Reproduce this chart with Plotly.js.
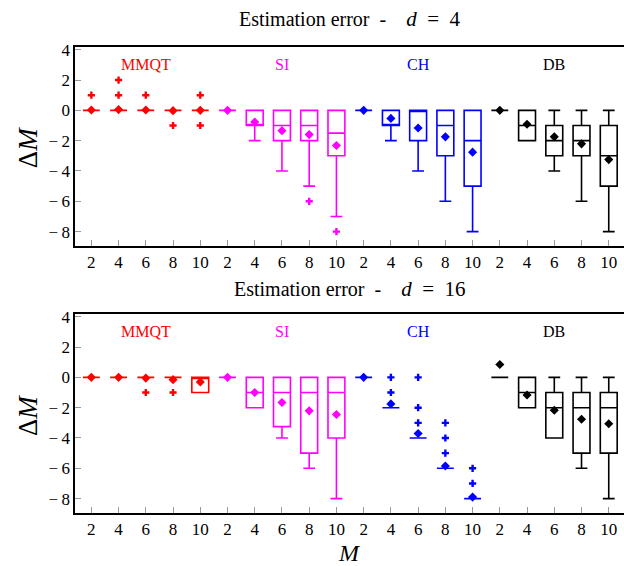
<!DOCTYPE html>
<html>
<head>
<meta charset="utf-8">
<script src="https://cdn.plot.ly/plotly-3.0.1.min.js"></script>
<style>html,body{margin:0;padding:0;background:#fff;}#chart{width:624px;height:566px;}</style>
</head>
<body>
<div id="chart"></div>
<script>
// Categories
const Mvals = [2, 4, 6, 8, 10];
const methods = ['MMQT', 'SI', 'CH', 'DB'];
const dims = [4, 16];
const yTickVals = [-8, -6, -4, -2, 0, 2, 4];

// ---- d = 4 (order: MMQT M=2..10, SI, CH, DB) ----
const d4_q1     = [0,0,0,0,0,   0,-1,-2,-2,-3,    0,-1,-2,-3,-5,   0,-2,-3,-3,-5];
const d4_median = [0,0,0,0,0,   0,-1,-1,-1,-1.5,  0,-1,0,-1,-2,    0,-1,-2,-2,-3];
const d4_q3     = [0,0,0,0,0,   0,0,0,0,0,        0,0,0,0,0,       0,0,-1,-1,-1];
const d4_lower  = [0,0,0,0,0,   0,-2,-4,-5,-7,    0,-2,-4,-6,-8,   0,-2,-4,-6,-8];
const d4_upper  = [0,0,0,0,0,   0,0,0,0,0,        0,0,0,0,0,       0,0,0,0,0];
const d4_mean   = [0.02,0.05,0.02,-0.02,0,  0,-0.77,-1.34,-1.6,-2.32,  0,-0.53,-1.16,-1.75,-2.76,  0,-0.92,-1.75,-2.21,-3.25];
const d4_outIdx = [0,1,1,2,3,4,4,8,9];
const d4_outVal = [1,1,2,1,-1,1,-1,-6,-8];

// ---- d = 16 ----
const d16_q1     = [0,0,0,0,-1,  0,-2,-3.25,-5,-4,  0,-2,-4,-6,-8,  0,-2,-4,-5,-5];
const d16_median = [0,0,0,0,0,   0,-1,-1,-1,-1,     0,-2,-4,-6,-8,  0,-1,-2,-2,-2];
const d16_q3     = [0,0,0,0,0,   0,0,0,0,0,         0,-2,-4,-6,-8,  0,0,-1,-1,-1];
const d16_lower  = [0,0,0,0,-1,  0,-2,-4,-6,-8,     0,-2,-4,-6,-8,  0,-2,-4,-6,-8];
const d16_upper  = [0,0,0,0,0,   0,0,0,0,0,         0,-2,-4,-6,-8,  0,0,0,0,0];
const d16_mean   = [0,0,-0.05,-0.15,-0.3,  0,-1.0,-1.66,-2.21,-2.45,  0,-1.75,-3.7,-5.85,-7.9,  0.85,-1.16,-2.17,-2.76,-3.06];
const d16_outIdx = [2,3,11,11,12,12,12,13,13,13,14,14];
const d16_outVal = [-1,-1,0,-1,0,-2,-3,-3,-4,-5,-6,-7];

const tickLabels = methods.flatMap(() => Mvals);
const tickPos = tickLabels.map((_, i) => i);
const yTickText = yTickVals.map(v => v < 0 ? '\u2212\u2009' + Math.abs(v) : String(v));

// styles
const colors = ['#ff0000', '#ff00ff', '#0000ff', '#000000'];
const serif = "'Liberation Serif'";

function panel(st, xa, ya) {
  const traces = [];
  methods.forEach((m, k) => {
    const s = k * 5, e = s + 5;
    const pos = tickPos.slice(s, e);
    traces.push({
      type: 'box', xaxis: xa, yaxis: ya,
      x: pos,
      q1: st.q1.slice(s, e), median: st.median.slice(s, e), q3: st.q3.slice(s, e),
      lowerfence: st.lower.slice(s, e), upperfence: st.upper.slice(s, e),
      boxpoints: false, width: 0.62, whiskerwidth: 0.7,
      line: {color: colors[k], width: 1.6},
      fillcolor: 'rgba(0,0,0,0)', showlegend: false, hoverinfo: 'skip'
    });
    traces.push({
      type: 'scatter', mode: 'markers', xaxis: xa, yaxis: ya,
      x: pos, y: st.mean.slice(s, e),
      marker: {symbol: 'diamond', size: 7, color: colors[k]},
      showlegend: false, hoverinfo: 'skip'
    });
  });
  traces.push({
    type: 'scatter', mode: 'markers', xaxis: xa, yaxis: ya,
    x: st.outIdx, y: st.outVal,
    marker: {symbol: 'cross', size: 6, color: st.outIdx.map(i => colors[Math.floor(i / 5)])},
    showlegend: false, hoverinfo: 'skip'
  });
  return traces;
}

const data = [
  ...panel({q1: d4_q1, median: d4_median, q3: d4_q3, lower: d4_lower, upper: d4_upper, mean: d4_mean, outIdx: d4_outIdx, outVal: d4_outVal}, 'x', 'y'),
  ...panel({q1: d16_q1, median: d16_median, q3: d16_q3, lower: d16_lower, upper: d16_upper, mean: d16_mean, outIdx: d16_outIdx, outVal: d16_outVal}, 'x2', 'y2')
];

const xax = (anchor) => ({
  anchor: anchor, range: [-0.6, 19.56], tickmode: 'array', tickvals: tickPos, ticktext: tickLabels,
  showgrid: false, zeroline: false, showline: true, linecolor: '#000', linewidth: 1.6, mirror: true,
  ticks: 'inside', ticklen: 6, tickcolor: '#999', tickwidth: 1,
  tickfont: {family: serif, size: 17, color: '#000'}
});
const yax = (anchor, dom) => ({
  anchor: anchor, domain: dom, range: [-8.95, 4.18], tickmode: 'array', tickvals: yTickVals, ticktext: yTickText,
  showgrid: false, zeroline: false, showline: true, linecolor: '#000', linewidth: 1.6,
  ticks: 'inside', ticklen: 6, tickcolor: '#999', tickwidth: 1,
  tickfont: {family: serif, size: 17, color: '#000'}
});

const annFont = (c, s) => ({family: serif, size: s, color: c});
const annotations = [];
[['x', 'y'], ['x2', 'y2']].forEach(([xa, ya]) => {
  methods.forEach((m, k) => {
    annotations.push({xref: xa, yref: ya, x: k * 5 + 2, y: 3, text: m, showarrow: false,
      font: annFont(colors[k], 16), xanchor: 'center', yanchor: 'middle'});
  });
});
const titleText = d => 'Estimation error\u2002-\u2003<span style="font-size:21px"><i>d</i>\u2002=\u2002' + d + '</span>';
annotations.push({xref: 'paper', yref: 'paper', x: 0.5, y: 1.06, text: titleText(dims[0]),
  showarrow: false, font: annFont('#000', 20), xanchor: 'center', yanchor: 'middle'});
annotations.push({xref: 'paper', yref: 'paper', x: 0.5, y: 0.4807, text: titleText(dims[1]),
  showarrow: false, font: annFont('#000', 20), xanchor: 'center', yanchor: 'middle'});
annotations.push({xref: 'paper', yref: 'paper', x: -0.0856, y: 0.783, text: 'Δ<i>M</i>', textangle: -90,
  showarrow: false, font: annFont('#000', 27), xanchor: 'center', yanchor: 'middle'});
annotations.push({xref: 'paper', yref: 'paper', x: -0.0856, y: 0.208, text: 'Δ<i>M</i>', textangle: -90,
  showarrow: false, font: annFont('#000', 27), xanchor: 'center', yanchor: 'middle'});
annotations.push({xref: 'paper', yref: 'paper', x: 0.5, y: -0.085, text: '<i>M</i>',
  showarrow: false, font: annFont('#000', 24), xanchor: 'center', yanchor: 'middle'});

const layout = {
  width: 624, height: 566,
  margin: {l: 75, r: 0, t: 47, b: 53},
  paper_bgcolor: '#fff', plot_bgcolor: '#fff',
  boxmode: 'overlay',
  xaxis: xax('y'),
  yaxis: yax('x', [0.573, 1]),
  xaxis2: xax('y2'),
  yaxis2: yax('x2', [0, 0.427]),
  annotations: annotations,
  showlegend: false
};

Plotly.newPlot('chart', data, layout, {displayModeBar: false, staticPlot: true});
</script>
</body>
</html>
